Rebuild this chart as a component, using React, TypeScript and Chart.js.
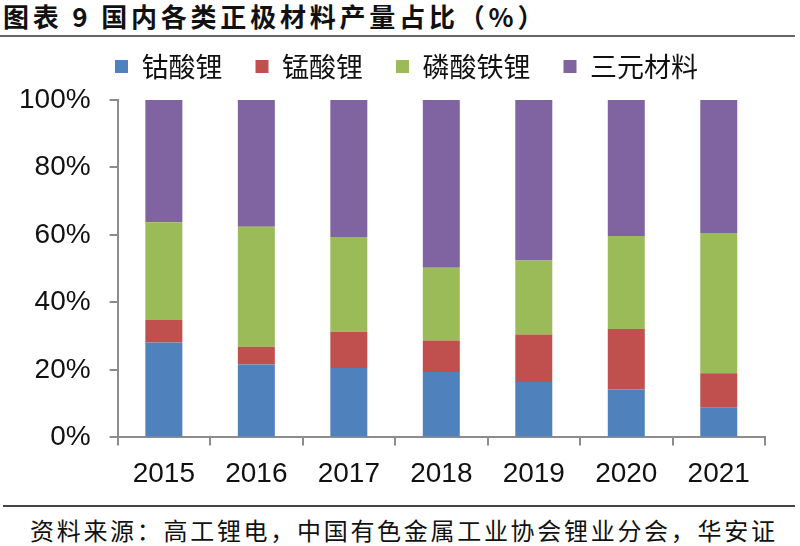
import React, { useEffect, useRef } from "react";
import { Chart, registerables } from "chart.js";

Chart.register(...registerables);

const categories = ["2015", "2016", "2017", "2018", "2019", "2020", "2021"];
const seriesNames = ["钴酸锂", "锰酸锂", "磷酸铁锂", "三元材料"];
const licoo2 = [28.1, 21.6, 20.6, 19.4, 16.4, 14.2, 8.8];
const limn2o4 = [6.7, 5.3, 10.7, 9.3, 14.1, 17.9, 10.2];
const lfp = [29.0, 35.5, 28.1, 21.6, 21.9, 27.6, 41.6];
const ternary = [36.2, 37.6, 40.6, 49.7, 47.6, 40.3, 39.4];
const colors = ["#4F81BD", "#C0504D", "#9BBB59", "#8064A2"];
const yTicks = [0, 20, 40, 60, 80, 100];

const title = "图表 9 国内各类正极材料产量占比（%）";
const source = "资料来源：高工锂电，中国有色金属工业协会锂业分会，华安证";

const legendTweak = {
  id: "legendTweak",
  beforeInit(chart: any) {
    const legend = chart.legend;
    if (!legend) return;
    const origFit = legend.fit;
    legend.fit = function () {
      origFit.call(this);
      this.height += 10;
    };
  },
  afterLayout(chart: any) {
    const legend = chart.legend;
    if (!legend) return;
    legend.left += 24;
    legend.right += 24;
  },
};

export default function App() {
  const ref = useRef<HTMLCanvasElement | null>(null);

  useEffect(() => {
    document.body.style.margin = "0";
    const canvas = ref.current;
    if (!canvas) return;
    const data = [licoo2, limn2o4, lfp, ternary];
    const chart = new Chart(canvas, {
      type: "bar",
      data: {
        labels: categories,
        datasets: seriesNames.map((name, i) => ({
          label: name,
          data: data[i],
          backgroundColor: colors[i],
          borderWidth: 0,
          categoryPercentage: 1,
          barPercentage: 0.4,
        })),
      },
      plugins: [legendTweak],
      options: {
        animation: false,
        responsive: false,
        maintainAspectRatio: false,
        layout: { padding: { left: 0, right: 35, top: 0, bottom: 0 } },
        plugins: {
          tooltip: { enabled: false },
          legend: {
            display: true,
            position: "top",
            labels: {
              boxWidth: 13,
              boxHeight: 13,
              padding: 33,
              color: "#111",
              font: { family: "'Noto Sans CJK SC'", size: 27 },
            },
          },
        },
        scales: {
          x: {
            stacked: true,
            border: { display: true, color: "#8c8c8c", width: 2 },
            grid: {
              display: true,
              drawOnChartArea: false,
              drawTicks: true,
              tickLength: 8,
              color: "#8c8c8c",
              lineWidth: 2,
              offset: true,
            },
            ticks: {
              color: "#111",
              padding: 12,
              font: { family: "'Liberation Sans', Arial", size: 28 },
            },
          },
          y: {
            stacked: true,
            min: 0,
            max: 100,
            border: { display: true, color: "#8c8c8c", width: 2 },
            grid: {
              display: true,
              drawOnChartArea: false,
              drawTicks: true,
              tickLength: 8,
              color: "#8c8c8c",
              lineWidth: 2,
            },
            afterBuildTicks: (axis: any) => {
              axis.ticks = yTicks.map((v) => ({ value: v }));
            },
            ticks: {
              color: "#111",
              padding: 19,
              font: { family: "'Liberation Sans', Arial", size: 28 },
              callback: (v: any) => v + "%",
            },
          },
        },
      },
    });
    return () => chart.destroy();
  }, []);

  return (
    <div
      style={{
        position: "fixed",
        left: 0,
        top: 0,
        width: 800,
        height: 546,
        background: "#fff",
        overflow: "hidden",
      }}
    >
      <div
        style={{
          position: "absolute",
          left: 3,
          top: 0,
          fontFamily: "'Noto Sans CJK SC'",
          fontWeight: 700,
          fontSize: 26,
          lineHeight: "32px",
          letterSpacing: "3.8px",
          color: "#111",
          whiteSpace: "nowrap",
        }}
      >
        {title}
      </div>
      <div
        style={{
          position: "absolute",
          left: 0,
          top: 35,
          width: 795,
          height: 2,
          background: "#666",
        }}
      />
      <canvas
        ref={ref}
        width={800}
        height={483}
        style={{ position: "absolute", left: 0, top: 20, width: 800, height: 483 }}
      />
      <div
        style={{
          position: "absolute",
          left: 3,
          top: 505,
          width: 792,
          height: 2,
          background: "#444",
        }}
      />
      <div
        style={{
          position: "absolute",
          left: 30,
          top: 514,
          fontFamily: "'Noto Sans CJK SC'",
          fontSize: 24,
          lineHeight: "32px",
          letterSpacing: "2.7px",
          color: "#111",
          whiteSpace: "nowrap",
        }}
      >
        {source}
      </div>
    </div>
  );
}
